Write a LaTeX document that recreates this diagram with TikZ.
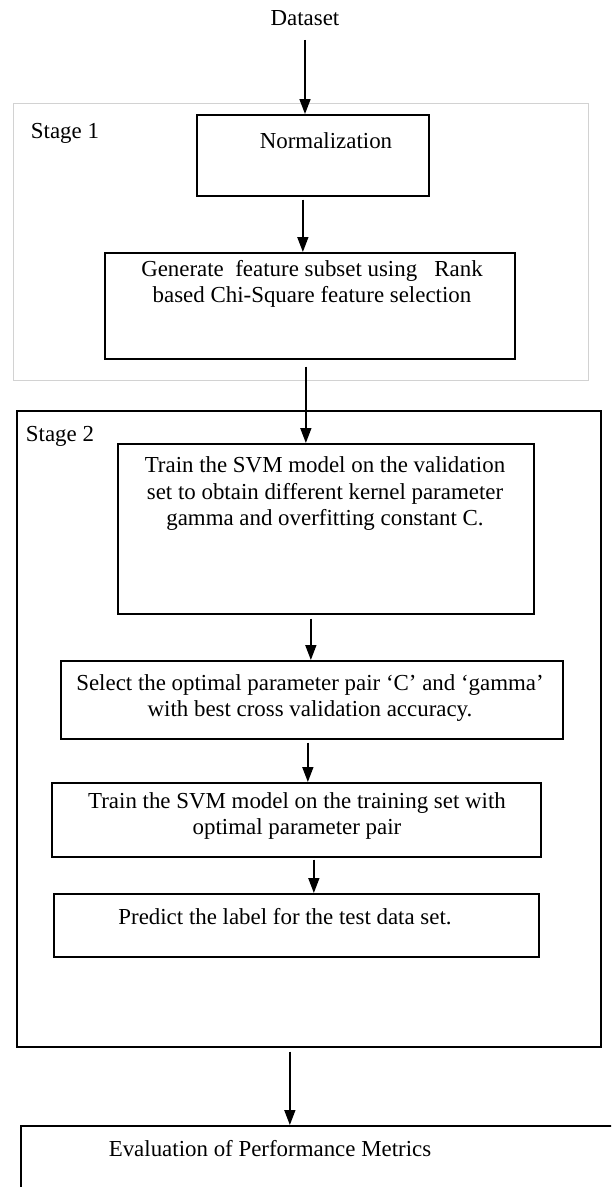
\documentclass[tikz,border=0pt]{standalone}
\usepackage{fontspec}
\setmainfont{Liberation Serif}
\usepackage{tikz}
\usetikzlibrary{positioning}
\usetikzlibrary{arrows.meta}
\tikzset{
  box/.style={draw,line width=1.7pt,inner sep=0pt,anchor=north west},
  stagebox/.style={draw,inner sep=0pt,anchor=north west},
  txt/.style={align=center,inner sep=0pt,font=\fontsize{22.9}{26.5}\selectfont},
  arr/.style={line width=1.6pt,-{Triangle[length=15pt,width=11pt]}},
}

\begin{document}
\begin{tikzpicture}[x=1pt,y=-1pt]
            \useasboundingbox (0,0) rectangle (611,1187);
            \clip (0,0) rectangle (611,1187);

            \node[stagebox,draw=gray!35,line width=0.9pt,minimum width=575pt,minimum height=277pt] (stageA) at (13,103) {};
            \node[stagebox,line width=1.7pt,minimum width=584pt,minimum height=636pt] (stageB) at (16,410) {};

            \node[box,minimum width=232pt,minimum height=81pt] (norm) at (196,114) {};
            \node[box,minimum width=410pt,minimum height=106pt] (gen) at (104,252) {};
            \node[box,minimum width=416pt,minimum height=170pt] (trainval) at (117,443) {};
            \node[box,minimum width=502pt,minimum height=78pt] (select) at (60,660) {};
            \node[box,minimum width=489pt,minimum height=74pt] (traintr) at (51,782) {};
            \node[box,minimum width=485pt,minimum height=63pt] (predict) at (53,893) {};
            \node[box,minimum width=640pt,minimum height=120pt] (evalm) at (20,1125) {};

            \node[txt] (dataset) at (305,18) {Dataset};
            \node[txt] (stageAtxt) at (65,133) {Stage 1};
            \node[txt] (stageBtxt) at (60,436) {Stage 2};
            \node[txt] (normtxt) at (326,141) {Normalization};
            \node[txt] (gentxt) at (312,284) {Generate \ feature subset using \ \ Rank\\based Chi-Square feature selection};
            \node[txt] (trainvaltxt) at (325,494) {Train the SVM model on the validation\\set to obtain different kernel parameter\\gamma and overfitting constant C.};
            \node[txt] (selecttxt) at (310,698) {Select the optimal parameter pair `C' and `gamma'\\with best cross validation accuracy.};
            \node[txt] (traintrtxt) at (297,816) {Train the SVM model on the training set with\\optimal parameter pair};
            \node[txt] (predicttxt) at (285,917) {Predict the label for the test data set.};
            \node[txt] (evaltxt) at (270,1149) {Evaluation of Performance Metrics};

            \draw[arr] ([yshift=-14pt]dataset.south) -- (dataset.south |- norm.north);
            \draw[arr] ([xshift=-10pt,yshift=-3pt]norm.south) -- ([xshift=-7pt]gen.north);
            \draw[arr] ([xshift=-4pt,yshift=-7pt]gen.south) -- ([xshift=-20pt]trainval.north);
            \draw[arr] ([xshift=-15pt,yshift=-4pt]trainval.south) -- ([xshift=-1pt]select.north);
            \draw[arr] ([xshift=-4pt,yshift=-3pt]select.south) -- ([xshift=11.5pt]traintr.north);
            \draw[arr] ([xshift=17.5pt,yshift=-2pt]traintr.south) -- ([xshift=17.5pt]predict.north);
            \draw[arr] ([xshift=-19pt,yshift=-4pt]stageB.south) -- ([xshift=-51pt]evalm.north);
          \end{tikzpicture}
\end{document}
